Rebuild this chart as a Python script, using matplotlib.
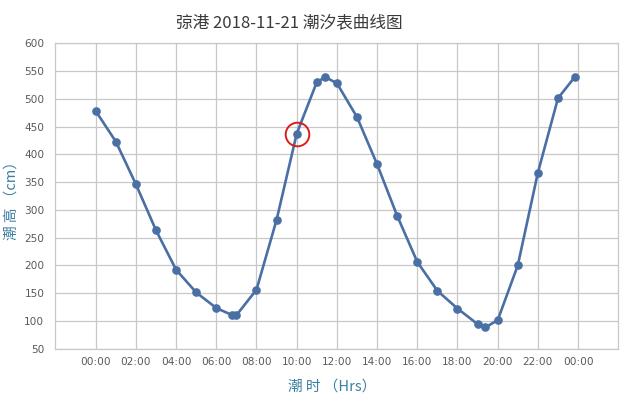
import matplotlib
matplotlib.use("Agg")
import matplotlib.pyplot as plt

plt.rcParams["font.family"] = ["Noto Sans CJK SC", "DejaVu Sans"]

# tide readings, hours after 00:00 and height in cm
hours = [0, 1, 2, 3, 4, 5, 6, 6.8, 7, 8, 9, 10, 11, 11.43, 12, 13, 14, 15,
         16, 17, 18, 19, 19.38, 20, 21, 22, 23, 23.83]
heights = [478, 423, 346, 263, 192, 151, 123, 110, 110, 156, 282, 437, 530,
           539, 528, 467, 382, 289, 206, 154, 122, 94, 88, 101, 200, 367,
           501, 539]
tick_hours = list(range(0, 25, 2))
tick_labels = [f"{h % 24:02d}:00" for h in tick_hours]
y_ticks = list(range(50, 601, 50))
marked_hour, marked_height = 10, 437

LINE = "#4a6fa5"
GRID = "#c8c8c8"
TEAL = "#3b7fa0"

fig = plt.figure(figsize=(6.35, 4.03), dpi=100)
ax = fig.add_axes([0.0874, 0.1352, 0.8863, 0.7574])

ax.plot(hours, heights, color=LINE, linewidth=1.9, marker="o",
        markersize=5.2, zorder=3)
ax.plot(marked_hour, marked_height, marker="o", markersize=17,
        markerfacecolor="none", markeredgecolor="#d81e1e",
        markeredgewidth=1.4, zorder=4)

ax.set_xlim(-2, 26)
ax.set_ylim(50, 600)
ax.set_xticks(tick_hours)
ax.set_xticklabels(tick_labels)
ax.set_yticks(y_ticks)
ax.grid(True, color=GRID, linewidth=0.9)
ax.set_axisbelow(True)
for sp in ax.spines.values():
    sp.set_color(GRID)
    sp.set_linewidth(0.9)
ax.tick_params(length=0, colors="#5a5a5a", labelsize=7.6)
ax.tick_params(axis="y", pad=8)
ax.tick_params(axis="x", pad=6)
for lab in ax.get_xticklabels() + ax.get_yticklabels():
    lab.set_fontfamily("DejaVu Sans")

fig.text(0.455, 0.944, "弶港 2018-11-21 潮汐表曲线图", ha="center",
         va="center", fontsize=12, color="#3a3a3a")
fig.text(0.019, 0.511, "潮 高 （cm）", rotation=90, ha="center", va="center",
         fontsize=10.5, color=TEAL)
fig.text(0.523, 0.040, "潮 时 （Hrs）", ha="center", va="center",
         fontsize=10.5, color=TEAL)

fig.savefig("out.png", dpi=100, facecolor="white")
